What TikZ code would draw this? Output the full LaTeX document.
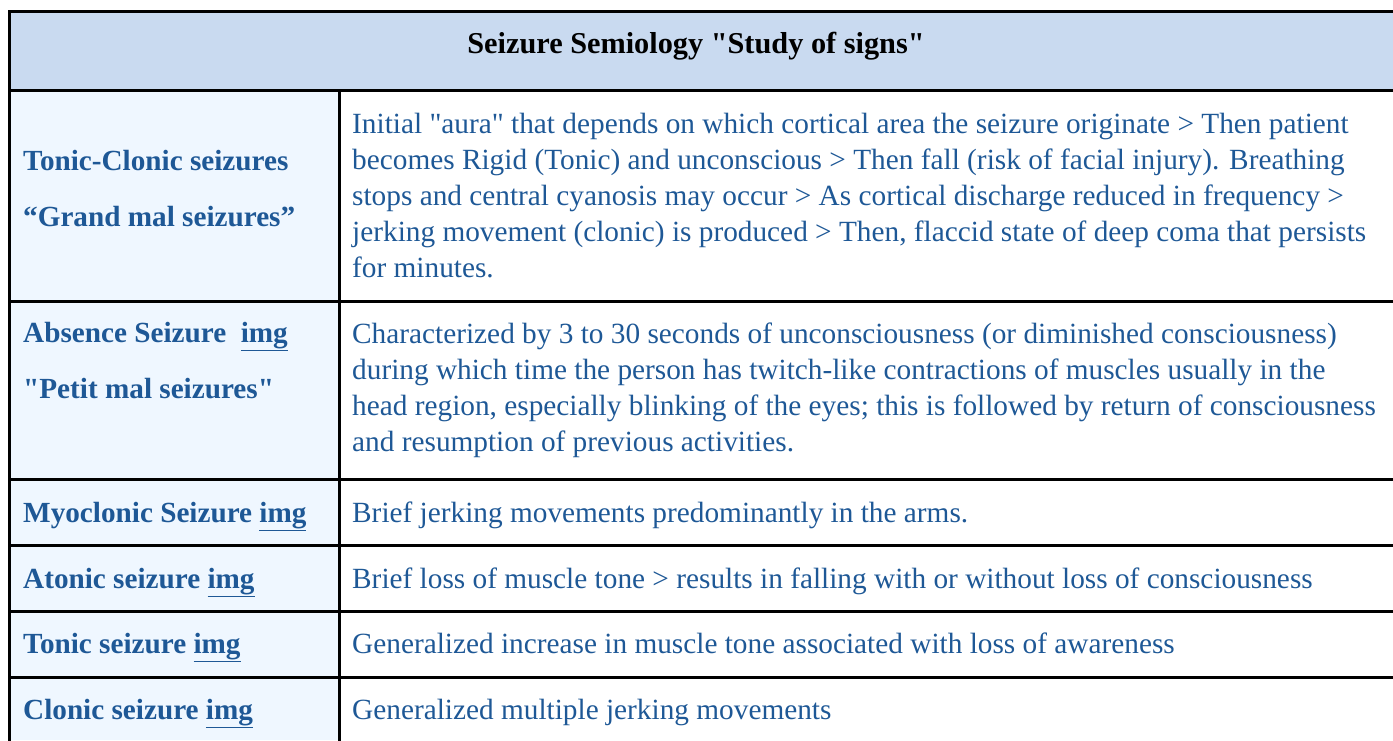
\documentclass[tikz,border=0pt]{standalone}
\usepackage{fontspec}
\setmainfont{Liberation Serif}
\usepackage{tikz}
\definecolor{headblue}{HTML}{C9DAF0}
\definecolor{paleblue}{HTML}{EFF7FF}
\definecolor{inkblue}{HTML}{1E5896}
\tikzset{
  rule/.style={line width=3pt, line cap=rect},
  headtext/.style={font=\fontsize{30.3}{36}\selectfont\bfseries, text=black, inner sep=0pt, anchor=base},
  kindtext/.style={font=\fontsize{29.2}{55.5}\selectfont\bfseries, text=inkblue, inner sep=0pt, anchor=base west, align=left},
  signtext/.style={font=\fontsize{29.3}{36}\selectfont, text=inkblue, inner sep=0pt, anchor=base west, align=left}
}
\newcommand{\imglink}{\underline{img}}
\newcommand{\dq}{\textquotedbl}

\begin{document}
\begin{tikzpicture}[x=1pt, y=-1pt]
    \useasboundingbox (0,0) rectangle (1393,740);

    % cell fills
    \fill[headblue] (9,11) rectangle (1393,90);
    \fill[paleblue] (9,90) rectangle (339,740);

    % grid
    \draw[rule] (9,11) -- (1393,11);
    \draw[rule] (9,90) -- (1393,90);
    \draw[rule] (9,301) -- (1393,301);
    \draw[rule] (9,479) -- (1393,479);
    \draw[rule] (9,545) -- (1393,545);
    \draw[rule] (9,611) -- (1393,611);
    \draw[rule] (9,677) -- (1393,677);
    \draw[rule] (9,11) -- (9,740);
    \draw[rule] (339,90) -- (339,740);

    \node[headtext] (title) at (696,53) {Seizure Semiology \dq Study of signs\dq};

    % multi-line cells sit on the baseline of their last line
    \node[kindtext] (tc) at (23,226) {Tonic-Clonic seizures\\“Grand mal seizures”};
    \node[kindtext] (abs) at (23,398) {Absence Seizure\ \ \imglink\\\dq Petit mal seizures\dq};
    \node[kindtext] (myo) at (23,522) {Myoclonic Seizure \imglink};
    \node[kindtext] (ato) at (23,588) {Atonic seizure \imglink};
    \node[kindtext] (ton) at (23,653) {Tonic seizure \imglink};
    \node[kindtext] (clo) at (23,719) {Clonic seizure \imglink};

    \node[signtext] (tcs) at (352,277) {Initial \dq aura\dq{} that depends on which cortical area the seizure originate > Then patient\\
      becomes Rigid (Tonic) and unconscious > Then fall (risk of facial injury). Breathing\\
      stops and central cyanosis may occur > As cortical discharge reduced in frequency >\\
      jerking movement (clonic) is produced > Then, flaccid state of deep coma that persists\\
      for minutes.};
    \node[signtext] (abss) at (352,451) {Characterized by 3 to 30 seconds of unconsciousness (or diminished consciousness)\\
      during which time the person has twitch-like contractions of muscles usually in the\\
      head region, especially blinking of the eyes; this is followed by return of consciousness\\
      and resumption of previous activities.};
    \node[signtext] (myos) at (352,522) {Brief jerking movements predominantly in the arms.};
    \node[signtext] (atos) at (352,588) {Brief loss of muscle tone > results in falling with or without loss of consciousness};
    \node[signtext] (tons) at (352,653) {Generalized increase in muscle tone associated with loss of awareness};
    \node[signtext] (clos) at (352,719) {Generalized multiple jerking movements};
\end{tikzpicture}
\end{document}
